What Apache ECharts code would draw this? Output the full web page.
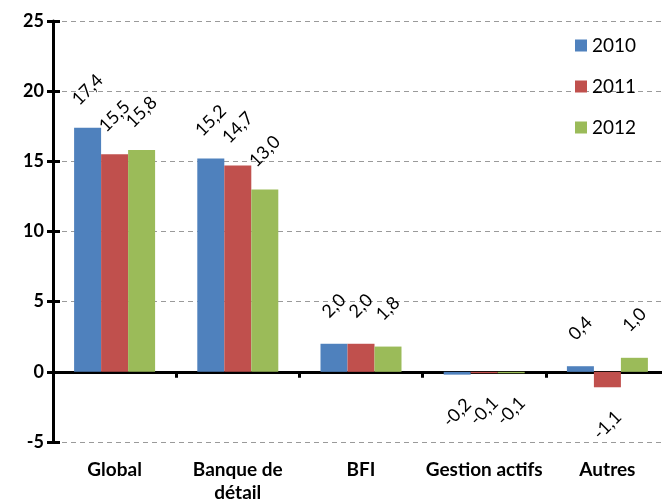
<!DOCTYPE html>
<html>
<head>
<meta charset="utf-8">
<script src="https://cdn.jsdelivr.net/npm/echarts@6/dist/echarts.min.js"></script>
<style>
  html, body { margin: 0; padding: 0; background: #fff; }
  #chart { width: 662px; height: 501px; }
</style>
</head>
<body>
<div id="chart"></div>
<script>
// Résultats par métier, 2010-2012
var categories = ['Global', 'Banque de\ndétail', 'BFI', 'Gestion actifs', 'Autres'];
var years = ['2010', '2011', '2012'];
var values2010 = [17.4, 15.2, 2.0, -0.2, 0.4];
var values2011 = [15.5, 14.7, 2.0, -0.1, -1.1];
var values2012 = [15.8, 13.0, 1.8, -0.1, 1.0];
var yTicks = { min: -5, max: 25, interval: 5 };

var colors = ['#4F81BD', '#C0504D', '#9BBB59'];
var FONT = 'Lato';

function fmt(v) { return v.toFixed(1).replace('.', ','); }

function makeData(arr) {
  return arr.map(function (v) {
    return {
      value: v,
      label: { position: v < 0 ? 'bottom' : 'top' }
    };
  });
}

function makeSeries(name, arr, idx) {
  return {
    name: name,
    type: 'bar',
    data: makeData(arr),
    barWidth: 27,
    barGap: '0%',
    xAxisIndex: 0,
    yAxisIndex: 0,
    itemStyle: { color: colors[idx] },
    label: {
      show: true,
      rotate: 45,
      distance: 38,
      align: 'center',
      verticalAlign: 'middle',
      fontFamily: FONT,
      fontSize: 18,
      color: '#000',
      formatter: function (p) { return fmt(p.value); }
    }
  };
}

var chart = echarts.init(document.getElementById('chart'), null, { renderer: 'canvas' });
chart.setOption({
  animation: false,
  backgroundColor: '#fff',
  textStyle: { fontFamily: FONT },
  // the plot runs past the right edge of the canvas
  grid: {
    left: 53, width: 616, top: 21, bottom: 59,
    containLabel: false,
    outerBoundsMode: 'none'
  },
  legend: {
    data: years,
    orient: 'vertical',
    left: 570,
    top: 31,
    itemWidth: 12,
    itemHeight: 12,
    itemGap: 22,
    icon: 'rect',
    textStyle: { fontFamily: FONT, fontSize: 19, color: '#000', lineHeight: 19 }
  },
  xAxis: [
    {
      type: 'category',
      data: categories,
      axisLine: { onZero: true, lineStyle: { color: '#000', width: 3 } },
      axisTick: { show: true, length: 6, lineStyle: { color: '#000', width: 3 } },
      axisLabel: { show: false },
      splitLine: { show: false }
    },
    {
      type: 'category',
      data: categories,
      position: 'bottom',
      axisLine: { show: false, onZero: false },
      axisTick: { show: false },
      axisLabel: {
        margin: 16,
        fontFamily: FONT,
        fontSize: 19,
        fontWeight: 'bold',
        color: '#000',
        lineHeight: 23,
        interval: 0
      },
      splitLine: { show: false }
    }
  ],
  yAxis: [
    {
      type: 'value',
      min: yTicks.min,
      max: yTicks.max,
      interval: yTicks.interval,
      axisLine: { show: true, lineStyle: { color: '#000', width: 3 } },
      axisTick: { show: true, length: 6, lineStyle: { color: '#000', width: 3 } },
      axisLabel: {
        margin: 9,
        fontFamily: FONT,
        fontSize: 18,
        fontWeight: 'bold',
        color: '#000'
      },
      splitLine: { show: true, lineStyle: { color: '#9a9a9a', width: 1, type: [5, 4] } }
    },
    {
      type: 'value',
      position: 'left',
      min: yTicks.min,
      max: yTicks.max,
      interval: yTicks.interval,
      axisLine: { show: false },
      axisTick: { show: true, inside: true, length: 7, lineStyle: { color: '#000', width: 3 } },
      axisLabel: { show: false },
      splitLine: { show: false }
    }
  ],
  series: [
    makeSeries(years[0], values2010, 0),
    makeSeries(years[1], values2011, 1),
    makeSeries(years[2], values2012, 2)
  ]
});
</script>
</body>
</html>
